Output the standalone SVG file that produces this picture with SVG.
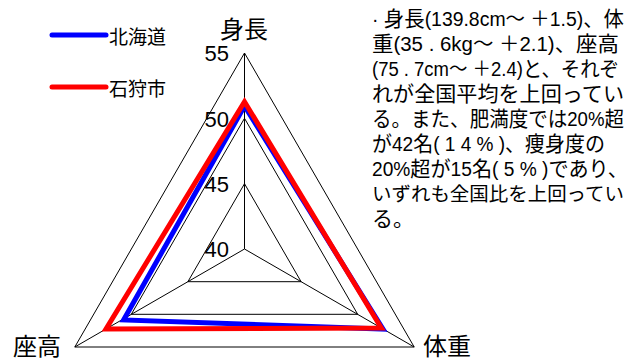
<svg xmlns="http://www.w3.org/2000/svg" width="632" height="364" viewBox="0 0 632 364">
<style>
.grid{fill:none;stroke:#000;stroke-width:1}
.ser{fill:none;stroke-width:5;stroke-linejoin:miter}
.lg{stroke-width:5;stroke-linecap:round}
.t{font-family:"Liberation Sans","Noto Sans CJK JP",sans-serif;fill:#000}
.ax{font-size:24px}
.tick{font-size:22px;text-anchor:end}
.leg{font-size:19px}
.body{font-size:20px}
.j{font-size:21px}
.jn{font-size:19.4px}
</style>
<rect width="632" height="364" fill="#fff"/>
<g id="grid">
<polygon class="grid" points="244.5,53 414.2,347 74.8,347"/>
<polygon class="grid" points="244.5,118.3 357.7,314.3 131.3,314.3"/>
<polygon class="grid" points="244.5,183.7 301.1,281.7 187.9,281.7"/>
<line class="grid" x1="244.5" y1="249" x2="244.5" y2="53"/>
<line class="grid" x1="244.5" y1="249" x2="74.8" y2="347"/>
<line class="grid" x1="244.5" y1="249" x2="414.2" y2="347"/>
</g>
<g id="ticks">
<text class="t tick" x="229" y="61">55</text>
<text class="t tick" x="229" y="127">50</text>
<text class="t tick" x="229" y="192">45</text>
<text class="t tick" x="229" y="257">40</text>
</g>
<g id="connectors">
<polygon id="hokkaido" class="ser" stroke="#0000ff" points="244.5,106 383,329 123.6,320"/>
<polygon id="ishikari" class="ser" stroke="#ff0000" points="244.5,101.7 381.3,328 106,329"/>
</g>
<g id="axis-labels">
<text id="label-height" class="t ax" x="244" y="38" text-anchor="middle">身長</text>
<text id="label-sitting" class="t ax" x="13" y="355">座高</text>
<text id="label-weight" class="t ax" x="423" y="355">体重</text>
</g>
<g id="legend">
<g id="legend-hokkaido">
<line class="lg" stroke="#0000ff" x1="52" y1="35" x2="106" y2="35"/>
<text class="t leg" x="109" y="44">北海道</text>
</g>
<g id="legend-ishikari">
<line class="lg" stroke="#ff0000" x1="52" y1="87" x2="106" y2="87"/>
<text class="t leg" x="109" y="96">石狩市</text>
</g>
</g>
<g id="note" class="t body">
<text x="372" y="26" textLength="252" lengthAdjust="spacingAndGlyphs">· <tspan class="j">身長</tspan>(139.8cm～ ＋1.5)<tspan class="j">、体</tspan></text>
<text x="372" y="51" textLength="247" lengthAdjust="spacingAndGlyphs"><tspan class="j">重</tspan>(35 . 6kg～ ＋2.1)<tspan class="j">、座高</tspan></text>
<text x="372" y="76" textLength="247" lengthAdjust="spacingAndGlyphs">(75 . 7cm～ ＋2.4)<tspan class="j">と、それぞ</tspan></text>
<text x="372" y="101" class="j" textLength="252" lengthAdjust="spacingAndGlyphs">れが全国平均を上回ってい</text>
<text x="372" y="126" textLength="252" lengthAdjust="spacingAndGlyphs"><tspan class="j">る。また、肥満度では</tspan>20%<tspan class="j">超</tspan></text>
<text x="372" y="151" textLength="233" lengthAdjust="spacingAndGlyphs"><tspan class="j">が</tspan>42<tspan class="j">名</tspan>( 1 4 % )<tspan class="j">、痩身度の</tspan></text>
<text x="372" y="176" textLength="256" lengthAdjust="spacingAndGlyphs">20%<tspan class="j">超が</tspan>15<tspan class="j">名</tspan>( 5 % )<tspan class="j">であり、</tspan></text>
<text x="372" y="201" class="jn" textLength="252" lengthAdjust="spacingAndGlyphs">いずれも全国比を上回ってい</text>
<text x="372" y="226" class="j">る。</text>
</g>
</svg>
